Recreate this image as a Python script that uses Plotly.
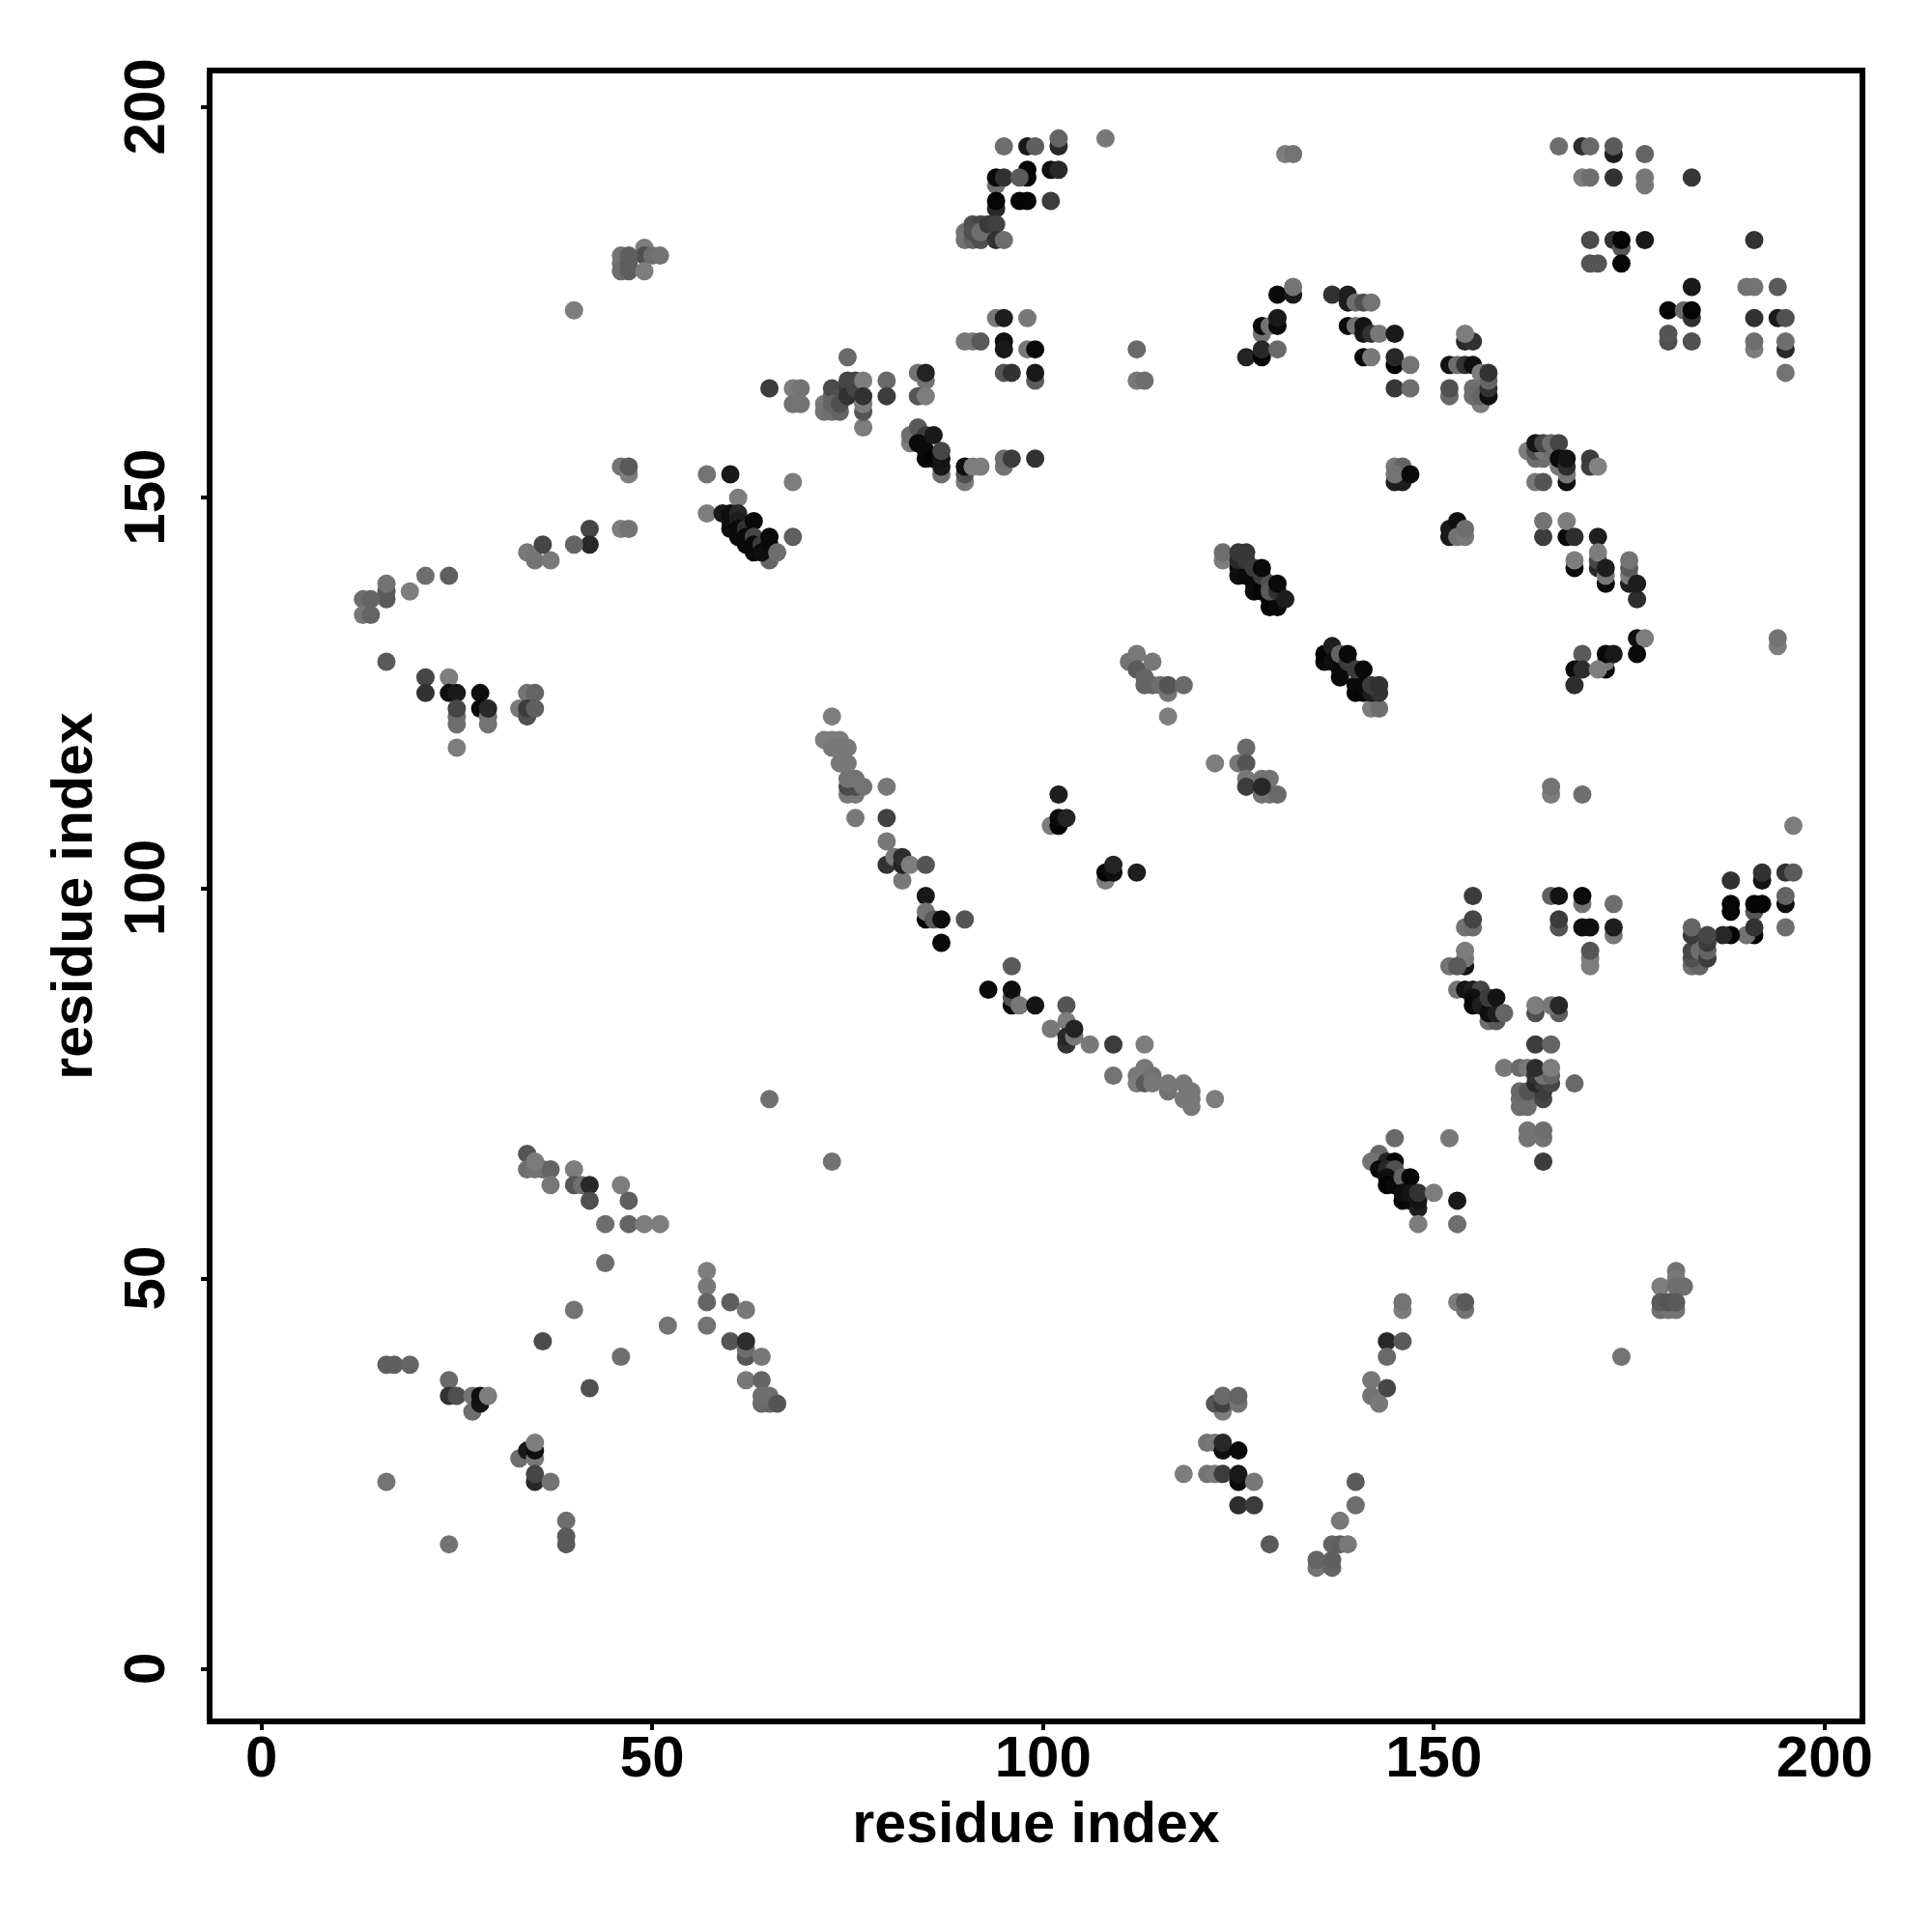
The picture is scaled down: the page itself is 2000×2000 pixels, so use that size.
import plotly.graph_objects as go

# (residue x, residue y, grey level of the contact)
lower_left = [
(65,73,112),(73,65,115),(34,66,85),(34,64,110),(36,64,110),(35,64,115),(37,64,100),(35,65,122),(40,64,125),(37,62,120),
(40,62,85),(41,62,110),(42,62,40),(42,60,80),(46,62,125),(47,60,95),(44,57,110),(47,57,100),(49,57,125),(51,57,125),
(44,52,110),(57,51,125),(57,49,120),(57,47,100),(60,47,95),(62,46,120),(57,44,115),(52,44,115),(40,46,115),(36,42,75),
(46,40,110),(42,36,80),(60,42,85),(62,40,85),(62,41,110),(62,42,45),(64,40,120),(62,37,120),(64,37,100),(64,34,105),
(65,34,105),(64,35,110),(65,35,110),(66,34,85),(16,39,95),(17,39,95),(19,39,100),(24,37,105),(24,35,50),(25,35,80),
(27,33,110),(27,35,115),(28,34,20),(28,35,15),(29,35,125),(33,27,110),(34,28,25),(35,27,120),(35,28,15),(35,29,125),
(35,24,40),(35,25,70),(37,24,115),(16,24,115),(39,19,110),(39,17,90),(39,16,90),(24,16,115),
]
upper_left = [
(40,174,125),(46,181,115),(46,180,115),(46,179,110),(49,182,125),(49,181,80),(47,181,95),(47,180,95),(47,179,95),(49,179,125),
(50,181,110),(51,181,115),(65,164,60),(68,164,125),(69,164,115),(68,162,115),(69,162,115),(46,154,115),(47,153,125),(47,154,90),
(46,146,125),(47,146,115),(57,153,115),(60,153,25),(68,152,125),(61,150,125),(57,148,125),(59,148,25),(60,148,15),(60,147,15),
(60,146,15),(61,148,40),(61,147,30),(61,146,10),(61,145,10),(62,146,50),(62,145,10),(62,144,10),(63,147,10),(63,145,70),
(63,144,10),(63,143,10),(65,142,100),(64,144,60),(64,143,15),(65,145,10),(65,144,10),(66,143,110),(68,145,95),(42,146,70),
(42,144,40),(40,144,100),(34,143,120),(35,142,115),(37,142,120),(36,144,70),(16,137,90),(16,138,90),(16,139,115),(13,137,110),
(14,137,100),(13,135,120),(14,135,100),(19,138,125),(21,140,110),(24,140,95),(16,129,90),(21,127,70),(21,125,50),(24,127,125),
(24,125,15),(25,125,25),(25,121,110),(25,122,110),(25,123,70),(28,125,15),(28,123,10),(29,121,115),(29,122,115),(29,123,40),
(25,118,125),(33,123,120),(34,125,115),(35,125,100),(34,122,80),(34,123,60),(35,123,95),
]
top_middle = [
(95,195,110),(98,195,25),(99,195,95),(102,195,40),(102,196,100),(108,196,120),(98,192,5),(98,191,5),(101,192,15),(102,192,40),
(94,190,110),(94,191,10),(95,191,50),(97,191,90),(94,187,40),(94,188,5),(97,188,5),(98,188,5),(101,188,60),(90,184,115),
(90,183,115),(91,183,100),(92,183,80),(91,185,80),(92,185,70),(91,184,80),(92,184,110),(93,185,60),(94,185,65),(94,183,50),
(95,183,110),(94,173,120),(95,173,30),(98,173,120),(90,170,120),(91,170,120),(92,170,90),(95,170,15),(95,169,25),(98,169,120),
(99,169,10),(95,166,85),(96,166,50),(99,165,90),(99,166,25),(112,169,105),(112,165,120),(113,165,110),(75,168,105),(72,162,120),
(72,161,115),(73,161,110),(74,161,100),(73,163,100),(73,164,75),(74,163,80),(73,162,100),(74,162,80),(75,164,60),(75,165,70),
(76,165,70),(75,163,50),(76,164,70),(77,165,125),(80,165,105),(84,166,115),(85,165,115),(85,166,35),(84,163,85),(85,163,125),
(80,163,60),(77,159,125),(77,161,85),(77,162,125),(77,163,50),(83,157,125),(83,158,110),(84,159,90),(85,158,60),(86,158,25),
(84,157,10),(85,156,10),(85,155,10),(86,155,5),(87,153,110),(87,154,25),(87,155,20),(87,156,70),(90,152,120),(90,153,80),
(90,154,15),(91,154,125),(92,154,125),(95,154,115),(95,155,110),(96,155,60),(99,155,50),
]
middle_curve = [
(73,122,125),(72,119,125),(73,119,125),(74,119,125),(73,118,120),(74,118,120),(75,118,120),(74,116,120),(75,116,120),(75,112,120),
(76,112,120),(75,113,75),(76,113,75),(75,114,115),(76,114,115),(77,113,115),(80,113,120),(76,109,120),(80,109,65),(80,106,120),
(82,101,120),(80,103,50),(81,104,120),(82,103,35),(82,104,45),(83,103,125),(85,103,85),(85,99,25),(85,96,5),(85,97,115),
(86,96,90),(87,96,15),(90,96,85),(87,93,10),(96,90,90),(93,87,10),(96,85,10),(96,86,85),(96,87,15),(97,85,120),
(99,85,20),(103,85,85),(103,83,125),(101,82,120),(103,80,50),(103,81,40),(104,81,120),(104,82,35),(106,80,120),(109,80,60),
(113,80,125),(109,76,115),(112,76,120),(113,77,120),(112,75,125),(113,75,90),(114,76,115),(114,75,120),(116,74,115),(116,75,120),
(118,75,120),(118,73,120),(119,74,120),(119,73,120),(119,72,120),(122,73,125),(101,108,125),(102,108,5),(102,109,10),(103,109,35),
(102,112,30),(108,101,125),(108,102,5),(109,102,15),(109,103,35),(112,102,30),
]
middle_cluster = [
(111,129,115),(112,130,120),(112,128,90),(114,129,120),(113,127,100),(113,126,100),(114,126,100),(115,126,110),(116,125,115),(116,126,85),
(118,126,105),(116,122,125),(122,116,125),(126,118,105),(125,116,120),(126,116,85),(126,114,120),(126,113,60),(128,114,115),(129,114,115),
(128,112,115),(129,112,115),(130,112,105),(128,113,40),
]
upper_arc = [
(131,194,125),(132,194,115),(130,176,10),(132,176,25),(132,177,115),(137,176,50),(139,175,30),(139,176,30),(140,175,110),(141,175,80),
(142,175,115),(139,172,10),(140,172,115),(141,171,25),(141,172,20),(142,171,50),(143,171,120),(145,171,25),(141,168,10),(142,168,120),
(145,167,5),(145,168,40),(147,167,115),(145,164,55),(147,164,110),(128,171,115),(128,172,10),(129,172,115),(130,172,10),(130,173,25),
(126,168,35),(128,168,5),(128,169,40),(130,169,105),
]
upper_right = [
(166,195,110),(169,195,45),(170,195,105),(173,194,30),(173,195,90),(177,194,100),(169,191,125),(170,191,110),(173,191,50),(177,190,120),
(177,191,120),(183,191,55),(170,183,75),(173,183,50),(174,182,85),(174,183,5),(177,183,25),(170,180,85),(171,180,85),(174,180,5),
(191,183,50),(183,177,25),(190,177,115),(191,177,115),(194,177,90),(180,174,5),(182,174,105),(183,173,50),(183,174,5),(191,173,50),
(194,173,25),(195,173,80),(180,170,80),(180,171,85),(183,170,80),(191,169,125),(191,170,110),(195,169,40),(195,170,110),(195,166,115),
(152,163,105),(152,164,80),(152,167,15),(153,167,110),(154,167,50),(154,170,40),(155,170,50),(154,171,125),(155,167,15),(156,162,125),
(155,163,110),(155,164,110),(156,163,100),(156,166,125),(157,163,15),(157,164,50),(157,165,100),(157,166,50),
]
diagonal_bands = [
(145,154,120),(146,154,100),(145,152,30),(146,152,30),(145,153,115),(147,153,10),(152,145,25),(152,146,25),(153,147,15),(153,145,115),
(154,145,120),(154,146,110),(123,142,125),(123,143,110),(125,141,10),(125,140,15),(126,140,10),(127,139,10),(127,138,10),(128,138,5),
(129,137,5),(129,136,5),(130,136,10),(125,142,40),(125,143,55),(126,143,55),(126,142,55),(127,141,60),(128,140,60),(129,139,80),
(129,138,90),(130,138,50),(128,141,10),(130,139,10),(131,137,30),(136,129,10),(136,130,5),(137,131,30),(137,129,15),(138,127,10),
(138,128,10),(138,130,100),(139,129,60),(139,130,10),(140,125,5),(140,126,10),(141,125,5),(141,126,10),(140,128,60),(141,128,10),
(142,123,125),(143,123,110),(142,125,30),(143,125,50),(142,126,60),(143,126,50),
]
right_upper_mid = [
(163,152,120),(164,152,85),(162,156,125),(163,155,110),(164,155,110),(163,156,80),(164,156,120),(165,156,110),(163,157,20),(164,157,70),
(165,157,110),(166,157,70),(166,154,120),(166,155,10),(167,152,15),(167,153,120),(167,154,45),(167,155,20),(170,154,60),(170,155,60),
(171,154,130),(164,145,60),(164,147,115),(167,145,10),(167,147,125),(168,145,45),(171,145,30),(168,141,10),(168,142,125),(171,141,40),
(171,142,70),(171,143,125),(172,139,10),(172,140,120),(172,141,30),(175,139,30),(175,140,125),(175,141,90),(175,142,115),(176,137,45),
(176,139,30),(176,132,15),(177,132,125),(176,130,10),(169,130,90),(172,128,10),(172,129,120),(172,130,10),(173,130,25),(168,128,10),
(169,128,45),(171,128,125),(168,126,45),(194,131,125),(194,132,115),
]
right_lower = [
(165,112,125),(165,113,115),(169,112,110),(196,108,125),(195,102,50),(196,102,90),(192,101,20),(192,102,50),(188,101,50),(195,98,15),
(195,99,100),(195,95,110),(188,97,5),(188,98,5),(191,97,85),(191,98,5),(192,98,5),(191,94,5),(190,94,115),(191,95,50),(188,94,5),
(187,94,40),(183,90,110),(184,90,100),(183,91,80),(183,92,70),(184,92,110),(185,91,60),(185,92,100),(185,93,60),(183,94,60),(183,95,100),
(185,94,70),(173,94,120),(173,95,30),(173,98,110),(169,98,115),(169,99,10),(165,99,95),(166,99,20),(166,95,85),(166,96,60),(169,95,15),
(170,95,15),(170,90,125),(170,91,125),(170,92,85),(155,99,60),(154,95,115),(155,95,110),(155,96,70),(154,90,20),(154,91,120),(154,92,125),
(152,90,115),(153,90,90),(153,87,115),(154,87,20),(155,87,30),(156,87,70),(155,86,15),(155,85,10),(156,85,30),(157,83,110),(158,83,90),
(157,84,15),(158,84,30),(157,86,60),(158,86,20),(159,84,100),(163,84,80),(163,85,125),(166,84,95),(165,85,120),(166,85,40),(163,80,60),
(165,80,100),(159,77,120),(161,77,105),(162,77,120),(161,72,110),(162,72,110),(161,73,110),(162,73,110),(161,74,105),(162,74,85),(164,73,70),
(164,74,60),(163,75,40),(164,75,60),(165,75,70),(163,76,50),(164,76,115),(165,76,100),(163,77,45),(165,77,125),(168,75,105),(162,68,115),
(164,68,115),(162,69,115),(164,69,110),(152,68,120),(164,65,60),
]
lower_right = [
(145,68,105),(143,66,105),(142,65,115),(144,65,35),(145,65,5),(143,64,10),(144,64,40),(145,64,80),(144,63,15),(144,62,5),
(145,62,10),(146,63,100),(147,63,5),(146,60,5),(147,60,10),(146,61,15),(147,61,20),(148,59,30),(148,60,20),(148,61,50),
(150,61,125),(153,60,25),(148,57,125),(153,57,110),(146,46,125),(146,47,115),(153,47,125),(154,46,115),(154,47,90),(144,42,40),
(146,42,90),(144,40,105),(174,40,115),(179,49,125),(181,51,115),(181,50,120),(181,49,110),(182,49,110),(179,46,110),(180,46,115),
(181,46,115),(179,47,90),(180,47,85),(181,47,90),(142,37,120),(144,36,70),(142,35,115),(143,34,120),(140,24,90),(140,21,110),
(138,19,120),(137,16,100),(138,16,95),(139,16,120),(135,13,115),(137,13,100),(135,14,100),(137,14,95),(129,16,90),(123,33,125),
(122,34,85),(123,34,65),(125,34,115),(123,35,105),(125,35,100),(121,29,115),(122,29,120),(123,28,15),(123,29,40),(125,28,10),
(118,25,125),(121,25,115),(122,25,120),(123,25,60),(125,24,10),(125,25,25),(127,24,120),(125,21,45),(127,21,60),
]

axis_ticks = [0, 50, 100, 150, 200]
axis_title = "residue index"

contacts = (lower_left + upper_left + top_middle + middle_curve + middle_cluster + upper_arc
            + upper_right + diagonal_bands + right_upper_mid + right_lower + lower_right)
residue_x = [c[0] for c in contacts]
residue_y = [c[1] for c in contacts]
level = [c[2] for c in contacts]

FONT = "Liberation Sans"
fig = go.Figure(go.Scatter(
    x=residue_x, y=residue_y, mode="markers",
    marker=dict(size=19, color=level, colorscale=[[0, "#000000"], [1, "#ffffff"]],
                cmin=0, cmax=255, line=dict(width=0)),
    showlegend=False,
))
axis = dict(
    tickmode="array", tickvals=axis_ticks,
    ticks="outside", ticklen=6, tickwidth=4, tickcolor="black",
    showgrid=False, zeroline=False, showline=True, linecolor="black", linewidth=6, mirror=True,
    tickfont=dict(family=FONT, size=60, color="black", weight="bold"),
)
fig.update_layout(
    width=1984, height=1984, paper_bgcolor="white", plot_bgcolor="white",
    margin=dict(l=212, r=67, t=68, b=213, autoexpand=False),
    font=dict(family=FONT, color="black"),
    xaxis=dict(axis, range=[-6.25, 204.47], ticktext=[str(t) for t in axis_ticks], ticklabelstandoff=-24,
               title=dict(text="<b>%s</b>" % axis_title, font=dict(family=FONT, size=59), standoff=17)),
    yaxis=dict(axis, range=[-6.31, 204.33], tickangle=-90,
               ticktext=[str(t) + "\u00a0" for t in axis_ticks], ticklabelstandoff=14,
               title=dict(text="<b>%s</b>" % axis_title, font=dict(family=FONT, size=59), standoff=3)),
)
fig.write_html("out.html")
